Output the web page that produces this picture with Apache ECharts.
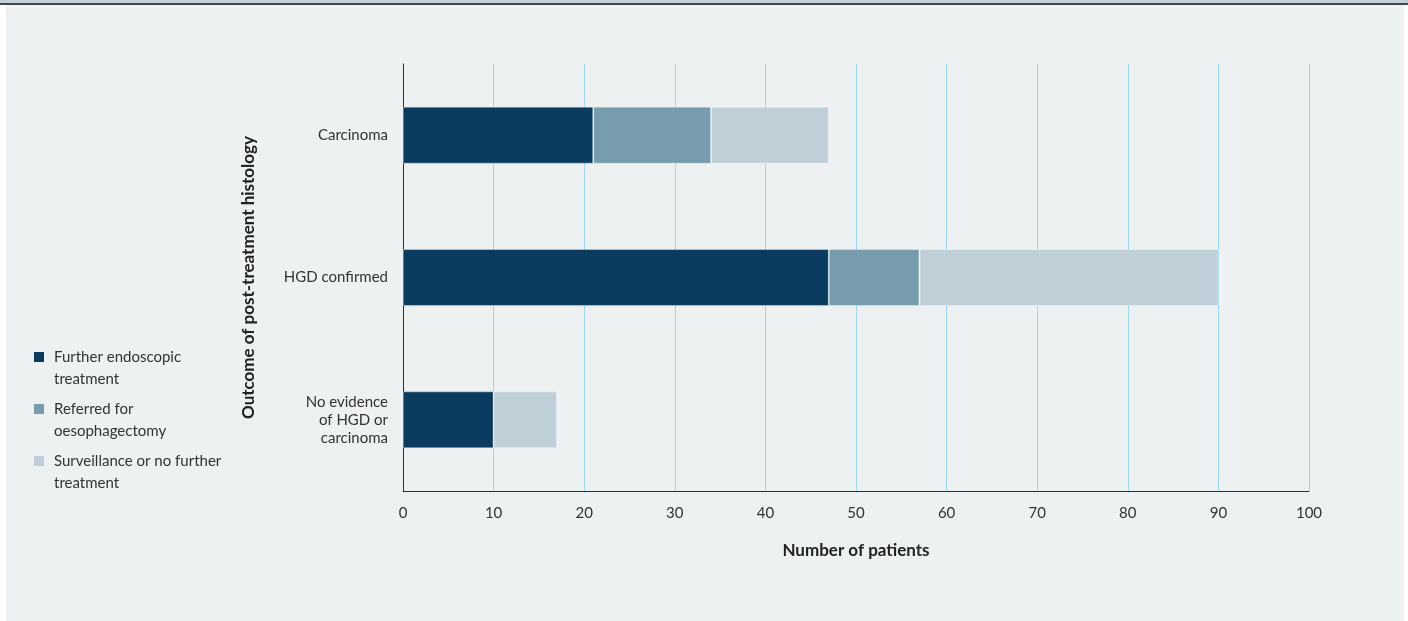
<!DOCTYPE html>
<html>
<head>
<meta charset="utf-8">
<script src="https://cdn.jsdelivr.net/npm/echarts@6/dist/echarts.min.js"></script>
<style>
html,body{margin:0;padding:0;background:#ffffff;}
#chart{width:1408px;height:621px;}
</style>
</head>
<body>
<div id="chart"></div>
<script>
var categories = ['Carcinoma', 'HGD confirmed', 'No evidence\nof HGD or\ncarcinoma'];
var seriesNames = ['Further endoscopic\ntreatment', 'Referred for\noesophagectomy', 'Surveillance or no further\ntreatment'];
var furtherEndoscopic = [21, 47, 10];
var referredOesophagectomy = [13, 10, 0];
var surveillance = [13, 33, 7];
var xTicks = [0, 10, 20, 30, 40, 50, 60, 70, 80, 90, 100];

var colors = ['#0a3a5e', '#769cae', '#bfcfd7'];
var font = 'Lato, "Open Sans", sans-serif';
var legendIcon = 'path://M0,6h10v10h-10z M0,0h0.01 M15,44h0.01';

var chart = echarts.init(document.getElementById('chart'), null, {renderer: 'canvas'});
var values = [furtherEndoscopic, referredOesophagectomy, surveillance];

chart.setOption({
  backgroundColor: 'transparent',
  animation: false,
  graphic: [
    {type: 'rect', left: 6, top: 0, shape: {width: 1398, height: 621}, style: {fill: '#edf1f2'}, z: -10},
    {type: 'rect', left: 0, top: 0, shape: {width: 1408, height: 3}, style: {fill: '#c3d0d8'}, z: -9},
    {type: 'rect', left: 0, top: 3, shape: {width: 1408, height: 2}, style: {fill: '#3e4a52'}, z: -9}
  ],
  legend: {
    orient: 'vertical',
    left: 29,
    top: 341,
    itemWidth: 15,
    itemHeight: 44,
    itemGap: 8,
    icon: legendIcon,
    itemStyle: {borderWidth: 0},
    textStyle: {fontFamily: font, fontSize: 15, color: '#333333', lineHeight: 22},
    data: seriesNames
  },
  grid: {left: 403, right: 99, top: 64, bottom: 130, containLabel: false},
  xAxis: {
    type: 'value',
    min: 0, max: 100, interval: 10,
    name: 'Number of patients',
    nameLocation: 'middle',
    nameGap: 51,
    nameTextStyle: {fontFamily: font, fontSize: 17, fontWeight: 'bold', color: '#222222'},
    axisLine: {show: true, lineStyle: {color: '#0a3a5e', width: 1}},
    axisTick: {show: false},
    axisLabel: {fontFamily: font, fontSize: 15, color: '#333333', margin: 15,
      formatter: function (v) { return xTicks.indexOf(v) >= 0 ? String(v) : ''; }},
    splitLine: {show: true, lineStyle: {color: '#9fd8f2', width: 1}}
  },
  yAxis: {
    type: 'category',
    inverse: true,
    data: categories,
    name: 'Outcome of post-treatment histology',
    nameLocation: 'middle',
    nameGap: 146,
    nameRotate: 90,
    nameTextStyle: {fontFamily: font, fontSize: 17, fontWeight: 'bold', color: '#222222'},
    axisLine: {show: true, lineStyle: {color: '#0a3a5e', width: 1}},
    axisTick: {show: false},
    axisLabel: {fontFamily: font, fontSize: 15, color: '#333333', margin: 15, lineHeight: 18, align: 'right'},
    splitLine: {show: false}
  },
  series: seriesNames.map(function (name, i) {
    return {
      name: name,
      type: 'bar',
      stack: 'total',
      barWidth: '40%',
      data: values[i],
      itemStyle: {color: colors[i], borderColor: 'rgba(255,255,255,0.35)', borderWidth: 1},
      emphasis: {disabled: true}
    };
  })
});
</script>
</body>
</html>
